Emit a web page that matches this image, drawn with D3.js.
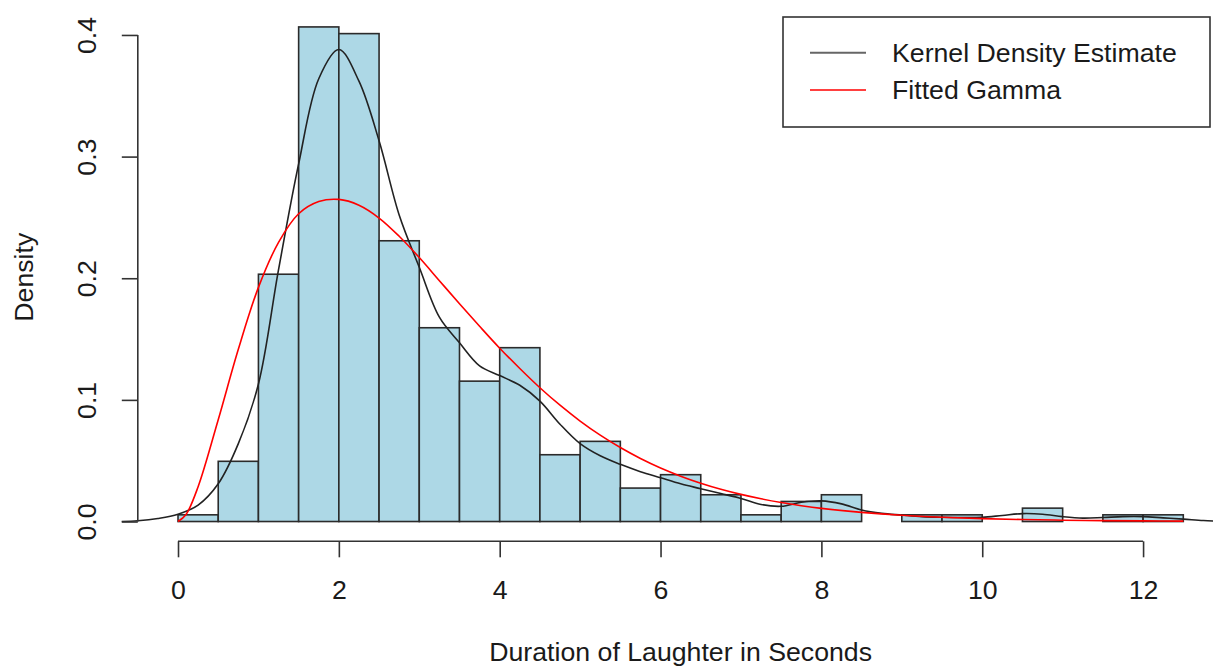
<!DOCTYPE html>
<html>
<head>
<meta charset="utf-8">
<script src="https://cdn.jsdelivr.net/npm/d3@7"></script>
<style>
  body { margin: 0; background: #ffffff; }
  text { font-family: "Liberation Sans", Arial, Helvetica, sans-serif; fill: #1a1a1a; }
</style>
</head>
<body>
<svg id="chart" width="1213" height="668"></svg>
<script>
// Histogram of laughter durations (bin width 0.5 s), density scale
const breaks = [0, 0.5, 1, 1.5, 2, 2.5, 3, 3.5, 4, 4.5, 5, 5.5, 6, 6.5, 7, 7.5, 8, 8.5, 9, 9.5, 10, 10.5, 11, 11.5, 12, 12.5];
const densities = [0.0055, 0.0495, 0.2033, 0.4066, 0.4011, 0.2308, 0.1593, 0.1154, 0.1429, 0.0549,
                   0.0659, 0.0275, 0.0385, 0.0220, 0.0055, 0.0165, 0.0220, 0, 0.0055, 0.0055,
                   0, 0.0110, 0, 0.0055, 0.0055];

// Kernel density estimate
const kdeX = [-0.7, -0.5, -0.25, 0, 0.25, 0.5, 0.75, 1, 1.25, 1.5, 1.75, 2, 2.25, 2.5, 2.75, 3, 3.25, 3.5, 3.75,
              4, 4.25, 4.5, 4.75, 5, 5.25, 5.5, 5.75, 6, 6.25, 6.5, 6.75, 7, 7.25, 7.5, 7.75, 8, 8.25, 8.5, 8.75,
              9, 9.25, 9.5, 9.75, 10, 10.25, 10.5, 10.75, 11, 11.25, 11.5, 11.75, 12, 12.25, 12.5, 12.75, 13];
const kdeY = [0, 0.0006, 0.0025, 0.006, 0.0135, 0.031, 0.064, 0.113, 0.207, 0.294, 0.364, 0.388, 0.362, 0.313,
              0.252, 0.209, 0.168, 0.147, 0.128, 0.120, 0.112, 0.099, 0.080, 0.064, 0.054, 0.047, 0.041, 0.036,
              0.031, 0.027, 0.023, 0.019, 0.014, 0.0125, 0.0158, 0.017, 0.0145, 0.0095, 0.0067, 0.0053, 0.004,
              0.0035, 0.0033, 0.0035, 0.005, 0.0065, 0.006, 0.004, 0.0028, 0.0033, 0.004, 0.004, 0.003, 0.002,
              0.0008, 0.0002];

// Fitted gamma density
const gammaX = [0, 0.1, 0.25, 0.5, 0.75, 1, 1.25, 1.5, 1.75, 2, 2.25, 2.5, 2.75, 3, 3.25, 3.5, 3.75, 4, 4.25,
                4.5, 4.75, 5, 5.25, 5.5, 5.75, 6, 6.25, 6.5, 6.75, 7, 7.25, 7.5, 7.75, 8, 8.5, 9, 9.5, 10,
                10.5, 11, 11.5, 12, 12.5];
const gammaY = [0, 0.0058, 0.0286, 0.0837, 0.1416, 0.1925, 0.2295, 0.2530, 0.2630, 0.2648, 0.2600, 0.2495,
                0.2345, 0.2170, 0.1980, 0.1790, 0.1605, 0.1425, 0.1258, 0.1100, 0.0956, 0.0826, 0.0710, 0.0608,
                0.0518, 0.0440, 0.0373, 0.0315, 0.0265, 0.0223, 0.0187, 0.0156, 0.0130, 0.0108, 0.0075, 0.0051,
                0.0035, 0.0024, 0.0016, 0.0011, 0.0007, 0.0005, 0.0003];

const xTicks = [0, 2, 4, 6, 8, 10, 12];
const yTicks = [0, 0.1, 0.2, 0.3, 0.4];
const yTickLabels = ["0.0", "0.1", "0.2", "0.3", "0.4"];
const legendLabels = ["Kernel Density Estimate", "Fitted Gamma"];
const legendColors = ["#666666", "#ff0000"];

const svg = d3.select("#chart");
const fontSize = 26.7;

// Plot region in user coordinates (4% padding around the data range)
const x = d3.scaleLinear().domain([-0.5, 13]).range([137.8, 1223.5]);
const y = d3.scaleLinear().domain([-0.01626, 0.4229]).range([541.3, 7.1]);

svg.append("rect").attr("width", 1213).attr("height", 668).attr("fill", "#ffffff");

// Bars
const bins = densities.map((d, i) => ({ x0: breaks[i], x1: breaks[i + 1], d }));
svg.append("g")
  .selectAll("rect")
  .data(bins)
  .join("rect")
  .attr("x", b => x(b.x0))
  .attr("width", b => x(b.x1) - x(b.x0))
  .attr("y", b => y(b.d))
  .attr("height", b => y(0) - y(b.d))
  .attr("fill", "#add8e6")
  .attr("stroke", "#2b2b2b")
  .attr("stroke-width", 1.6);

// Density curves
const line = d3.line()
  .x(p => x(p[0]))
  .y(p => y(p[1]))
  .curve(d3.curveCatmullRom.alpha(0.5));

svg.append("path")
  .attr("d", line(kdeX.map((v, i) => [v, kdeY[i]])))
  .attr("fill", "none")
  .attr("stroke", "#222222")
  .attr("stroke-width", 1.6);

svg.append("path")
  .attr("d", line(gammaX.map((v, i) => [v, gammaY[i]])))
  .attr("fill", "none")
  .attr("stroke", "#ff0000")
  .attr("stroke-width", 1.6);

// X axis
const xAxisG = svg.append("g")
  .attr("transform", `translate(0,${y.range()[0]})`)
  .call(d3.axisBottom(x).tickValues(xTicks).tickFormat(d3.format("d")).tickSize(16).tickSizeOuter(0).tickPadding(23));
xAxisG.select(".domain").remove();
xAxisG.append("line")
  .attr("x1", x(xTicks[0])).attr("x2", x(xTicks[xTicks.length - 1]))
  .attr("stroke", "#333333").attr("stroke-width", 1.6);
xAxisG.selectAll(".tick line").attr("stroke", "#333333").attr("stroke-width", 1.6);
xAxisG.selectAll(".tick text").attr("font-size", fontSize).attr("font-family", null).attr("fill", "#1a1a1a");

// Y axis
const yAxisG = svg.append("g")
  .attr("transform", `translate(${x.range()[0]},0)`)
  .call(d3.axisLeft(y).tickValues(yTicks).tickFormat((d, i) => yTickLabels[i]).tickSize(16).tickSizeOuter(0));
yAxisG.select(".domain").remove();
yAxisG.append("line")
  .attr("y1", y(yTicks[0])).attr("y2", y(yTicks[yTicks.length - 1]))
  .attr("stroke", "#333333").attr("stroke-width", 1.6);
yAxisG.selectAll(".tick line").attr("stroke", "#333333").attr("stroke-width", 1.6);
yAxisG.selectAll(".tick text")
  .attr("x", null).attr("dy", null)
  .attr("text-anchor", "middle")
  .attr("transform", "translate(-42,0) rotate(-90)")
  .attr("font-size", fontSize).attr("font-family", null).attr("fill", "#1a1a1a");

// Axis titles
svg.append("text")
  .attr("x", (x.range()[0] + x.range()[1]) / 2)
  .attr("y", 661)
  .attr("text-anchor", "middle")
  .attr("font-size", fontSize)
  .text("Duration of Laughter in Seconds");

svg.append("text")
  .attr("transform", `translate(33,${(y.range()[0] + y.range()[1]) / 2 + 3}) rotate(-90)`)
  .attr("text-anchor", "middle")
  .attr("font-size", fontSize)
  .text("Density");

// Legend
const legend = svg.append("g");
legend.append("rect")
  .attr("x", 783).attr("y", 17).attr("width", 427).attr("height", 110)
  .attr("fill", "#ffffff").attr("stroke", "#333333").attr("stroke-width", 1.6);
const items = legend.selectAll("g.item")
  .data(legendLabels)
  .join("g")
  .attr("class", "item")
  .attr("transform", (d, i) => `translate(0,${52.7 + i * 37.3})`);
items.append("line")
  .attr("x1", 810).attr("x2", 866)
  .attr("stroke", (d, i) => legendColors[i])
  .attr("stroke-width", (d, i) => i === 0 ? 2 : 1.6);
items.append("text")
  .attr("x", 892).attr("dy", "0.35em")
  .attr("font-size", fontSize)
  .text(d => d);
</script>
</body>
</html>
